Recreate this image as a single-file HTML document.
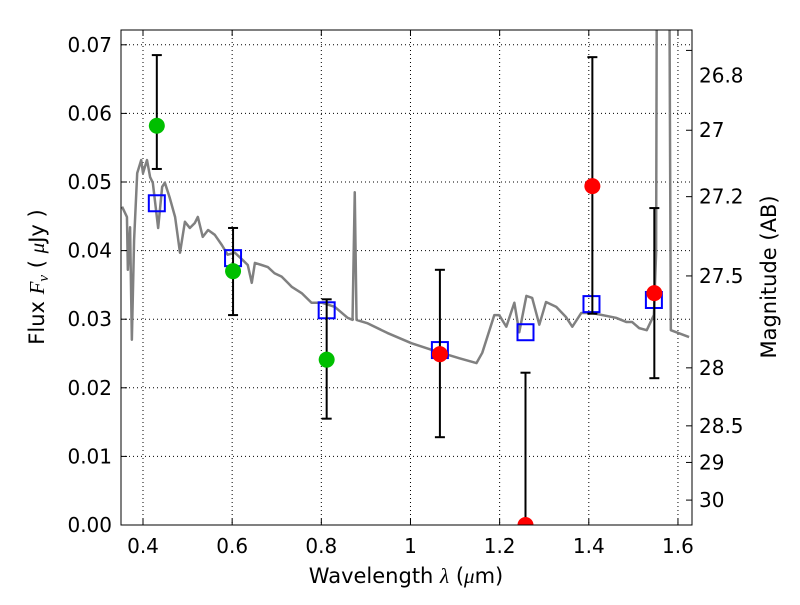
<!DOCTYPE html>
<html><head><meta charset="utf-8"><style>
body{margin:0;background:#fff;}
svg text{font-family:"DejaVu Sans","Liberation Sans",sans-serif;fill:#000;}
</style></head><body>
<svg id="chart" width="800" height="600">
<defs><clipPath id="clip"><rect x="121" y="30" width="571" height="495"/></clipPath></defs>
<g id="grid"></g>
<g id="spec" clip-path="url(#clip)"></g>
<g id="marks" clip-path="url(#clip)"></g>
<rect x="121" y="30" width="571" height="495" fill="none" stroke="#000" stroke-width="1"/>
<g id="axes"></g>
<text x="44" y="277" font-size="21" text-anchor="middle" transform="rotate(-90 44 277)">Flux  <tspan font-family="Liberation Serif" font-style="italic">F</tspan><tspan font-family="Liberation Serif" font-style="italic" font-size="15" dy="4">ν</tspan><tspan dy="-4">  ( </tspan><tspan font-family="Liberation Serif" font-style="italic">μ</tspan>Jy )</text>
<text x="776" y="277" font-size="21" text-anchor="middle" transform="rotate(-90 776 277)">Magnitude (AB)</text>
<text x="406" y="583" font-size="21" text-anchor="middle">Wavelength  <tspan font-family="Liberation Serif" font-style="italic">λ</tspan> (<tspan font-family="Liberation Serif" font-style="italic">μ</tspan>m)</text>
</svg>
<script>
const specLam=[0.353,0.364,0.366,0.371,0.375,0.380,0.387,0.396,0.400,0.409,0.416,0.422,0.434,0.443,0.449,0.460,0.472,0.483,0.494,0.505,0.516,0.523,0.534,0.546,0.561,0.577,0.590,0.606,0.624,0.635,0.644,0.651,0.666,0.680,0.695,0.711,0.725,0.734,0.756,0.778,0.801,0.830,0.859,0.870,0.875,0.879,0.904,0.948,1.002,1.049,1.110,1.148,1.161,1.188,1.199,1.215,1.233,1.244,1.260,1.273,1.289,1.304,1.327,1.349,1.363,1.383,1.407,1.461,1.484,1.497,1.513,1.530,1.546,1.551,1.553,1.580,1.584,1.625];
const specFlux=[0.0464,0.0449,0.0372,0.0434,0.0270,0.0415,0.0513,0.0532,0.0513,0.0532,0.0507,0.0499,0.0433,0.0493,0.0499,0.0477,0.0449,0.0397,0.0442,0.0433,0.0440,0.0449,0.0420,0.0430,0.0423,0.0408,0.0394,0.0397,0.0386,0.0379,0.0353,0.0382,0.0379,0.0376,0.0367,0.0362,0.0353,0.0347,0.0338,0.0324,0.0324,0.0318,0.0302,0.0299,0.0485,0.0299,0.0294,0.0280,0.0265,0.0255,0.0243,0.0236,0.0251,0.0306,0.0306,0.0289,0.0324,0.0281,0.0334,0.0331,0.0292,0.0325,0.0318,0.0303,0.0289,0.0309,0.0309,0.0302,0.0296,0.0296,0.0287,0.0284,0.0306,0.0397,0.09,0.09,0.0284,0.0274];
const modelLam=[0.431,0.602,0.812,1.066,1.258,1.406,1.546];
const modelFlux=[0.0469,0.0389,0.0313,0.0255,0.0281,0.0322,0.0328];
const greenLam=[0.431,0.602,0.812];
const greenFlux=[0.0582,0.0370,0.0241];
const greenHi=[0.0685,0.0433,0.0329];
const greenLo=[0.0519,0.0306,0.0155];
const redLam=[1.066,1.258,1.408,1.547];
const redFlux=[0.0249,0.0,0.0494,0.0338];
const redHi=[0.0372,0.0222,0.0682,0.0462];
const redLo=[0.0128,0.0,0.0308,0.0214];
const xTicks=[0.4,0.6,0.8,1.0,1.2,1.4,1.6];
const xTickLabels=["0.4","0.6","0.8","1","1.2","1.4","1.6"];
const yTicks=[0,0.01,0.02,0.03,0.04,0.05,0.06,0.07];
const yTickLabels=["0.00","0.01","0.02","0.03","0.04","0.05","0.06","0.07"];
const magTicks=[26.8,27,27.2,27.5,28,28.5,29,30];
const magTickLabels=["26.8","27","27.2","27.5","28","28.5","29","30"];

const X=l=>143+(l-0.4)*445.8;
const Y=f=>525-f*6860;
const NS="http://www.w3.org/2000/svg";
function mk(parent,tag,attrs){const e=document.createElementNS(NS,tag);for(const k in attrs)e.setAttribute(k,attrs[k]);document.getElementById(parent).appendChild(e);return e;}

xTicks.forEach((t,i)=>{
  const g=mk('grid','line',{x1:X(t),x2:X(t),y1:30,y2:525,stroke:'#000','stroke-dasharray':'1,3','stroke-width':1});
  
  
  mk('axes','line',{x1:X(t),x2:X(t),y1:525,y2:519,stroke:'#000'});
  mk('axes','line',{x1:X(t),x2:X(t),y1:30,y2:36,stroke:'#000'});
  const tx=mk('axes','text',{x:X(t),y:553,'font-size':20,'text-anchor':'middle'});
  tx.textContent=xTickLabels[i];
  
  
});
yTicks.forEach((t,i)=>{
  const g=mk('grid','line',{x1:121,x2:692,y1:Y(t),y2:Y(t),stroke:'#000','stroke-dasharray':'1,3','stroke-width':1});
  
  
  mk('axes','line',{x1:121,x2:127,y1:Y(t),y2:Y(t),stroke:'#000'});
  const tx=mk('axes','text',{x:112,y:Y(t)+7,'font-size':20,'text-anchor':'end'});
  tx.textContent=yTickLabels[i];
  
  
});
magTicks.forEach((m,i)=>{
  const f=Math.pow(10,(23.9-m)/2.5);
  mk('axes','line',{x1:686,x2:692,y1:Y(f),y2:Y(f),stroke:'#000'});
  const tx=mk('axes','text',{x:699,y:Y(f)+7+(i===0?25:0),'font-size':20,'text-anchor':'start'});
  tx.textContent=magTickLabels[i];
  
  
});

const sp=mk('spec','polyline',{points:specLam.map((l,i)=>X(l)+','+Y(specFlux[i])).join(' '),fill:'none',stroke:'#808080','stroke-width':2.5,'stroke-linejoin':'round'});



function errbar(l,hi,lo){
  mk('marks','line',{x1:X(l),x2:X(l),y1:Y(hi),y2:Y(lo),stroke:'#000','stroke-width':2});
  mk('marks','line',{x1:X(l)-5,x2:X(l)+5,y1:Y(hi),y2:Y(hi),stroke:'#000','stroke-width':2});
  mk('marks','line',{x1:X(l)-5,x2:X(l)+5,y1:Y(lo),y2:Y(lo),stroke:'#000','stroke-width':2});
}
modelLam.forEach((l,i)=>{
  const r=mk('marks','rect',{x:X(l)-8,y:Y(modelFlux[i])-8,width:16,height:16,fill:'none',stroke:'#0000ff','stroke-width':2});
  
  
});
greenLam.forEach((l,i)=>{
  errbar(l,greenHi[i],greenLo[i]);
  const c=mk('marks','circle',{cx:X(l),cy:Y(greenFlux[i]),r:8,fill:'#00bf00'});
  
  
});
redLam.forEach((l,i)=>{
  errbar(l,redHi[i],redLo[i]);
  const c=mk('marks','circle',{cx:X(l),cy:Y(redFlux[i]),r:8,fill:'#ff0000'});
  
  
});
</script>
</body></html>
